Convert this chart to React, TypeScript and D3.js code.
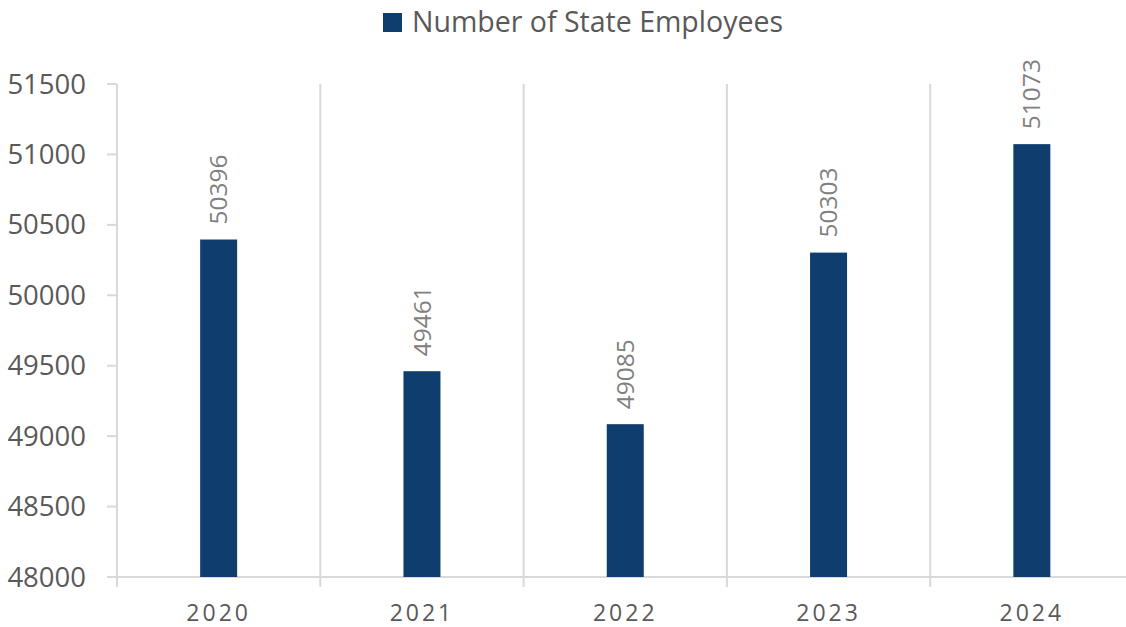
import React from "react";
import * as d3 from "d3";

const categories = ["2020", "2021", "2022", "2023", "2024"];
const employees = [50396, 49461, 49085, 50303, 51073];
const yTicks = [48000, 48500, 49000, 49500, 50000, 50500, 51000, 51500];
const seriesName = "Number of State Employees";

const W = 1126;
const H = 627;
const left = 117;
const right = 1133.5;
const top = 84;
const bottom = 577;
const FONT = "'Open Sans', 'Noto Sans', sans-serif";

export default function App() {
  const x = d3.scaleBand<string>().domain(categories).range([left, right]).padding(0);
  const y = d3.scaleLinear().domain([48000, 51500]).range([bottom, top]);
  const barW = 37;
  const grid = "#d9d9d9";
  const boundaries = categories.map((c) => x(c)!).concat([right]);

  return (
    <svg width={W} height={H} style={{ position: "absolute", left: 0, top: 0, background: "#fff" }}>
      {/* legend */}
      <rect x={383} y={13} width={19} height={19} fill="#0f3d6e" />
      <text x={412} y={32} fontFamily={FONT} fontSize={28.5} fill="#595959">
        {seriesName}
      </text>

      {/* vertical gridlines / category ticks */}
      {boundaries.map((b, i) => (
        <line key={"g" + i} x1={b} x2={b} y1={top} y2={bottom + 10} stroke={grid} strokeWidth={2} />
      ))}
      {/* baseline */}
      <line x1={left - 10} x2={W} y1={bottom} y2={bottom} stroke={grid} strokeWidth={2} />

      {/* y ticks */}
      {yTicks.map((t) => (
        <g key={"y" + t}>
          <line x1={left - 10} x2={left} y1={y(t)} y2={y(t)} stroke={grid} strokeWidth={2} />
          <text
            x={86}
            y={y(t)}
            dy="0.35em"
            textAnchor="end"
            fontFamily={FONT}
            fontSize={27.5}
            fill="#595959"
          >
            {t}
          </text>
        </g>
      ))}

      {/* bars */}
      {categories.map((c, i) => {
        const cx = x(c)! + x.bandwidth() / 2;
        return (
          <g key={"b" + c}>
            <rect x={cx - barW / 2} y={y(employees[i])} width={barW} height={bottom - y(employees[i])} fill="#0f3d6e" />
            <text
              transform={`translate(${cx},${y(employees[i]) - 15}) rotate(-90)`}
              dy="0.35em"
              textAnchor="start"
              fontFamily={FONT}
              fontSize={24.5}
              fill="#808080"
            >
              {employees[i]}
            </text>
            <text
              x={cx}
              y={621}
              textAnchor="middle"
              fontFamily={FONT}
              fontSize={23}
              letterSpacing={3}
              fill="#595959"
            >
              {c}
            </text>
          </g>
        );
      })}
    </svg>
  );
}
